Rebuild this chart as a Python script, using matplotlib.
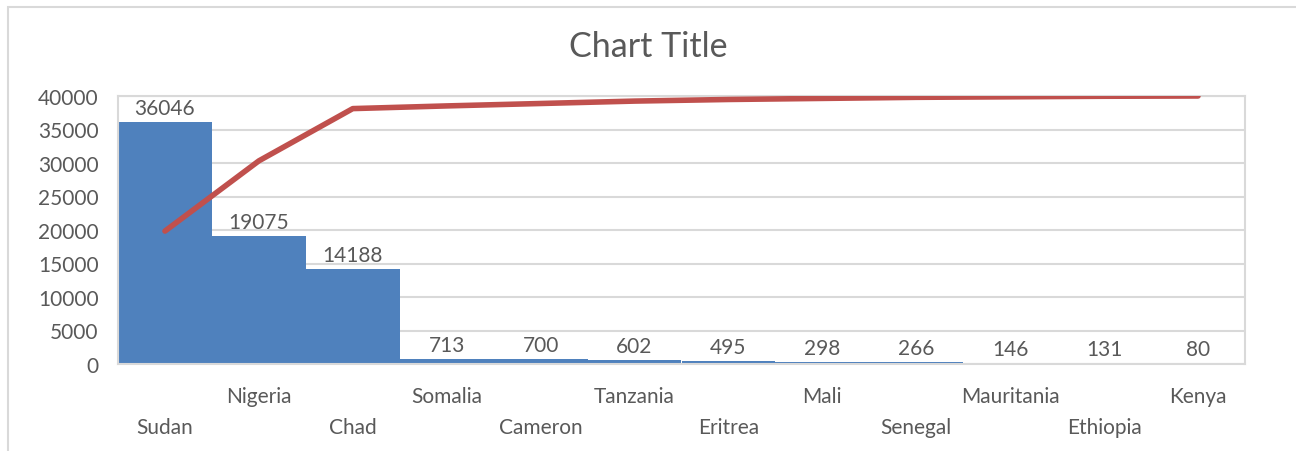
import matplotlib.pyplot as plt
from matplotlib.patches import Rectangle

countries = ["Sudan", "Nigeria", "Chad", "Somalia", "Cameron", "Tanzania",
             "Eritrea", "Mali", "Senegal", "Mauritania", "Ethiopia", "Kenya"]
counts = [36046, 19075, 14188, 713, 700, 602, 495, 298, 266, 146, 131, 80]
# cumulative share (%), secondary axis which is hidden in the chart
cum_pct = [49.6, 75.8, 95.3, 96.3, 97.2, 98.1, 98.7, 99.1, 99.5, 99.7, 99.9, 100.0]

text_col = "#595959"
grid_col = "#D9D9D9"
plt.rcParams["font.family"] = ["Lato", "DejaVu Sans"]

fig = plt.figure(figsize=(12.96, 4.52), dpi=100)
ax = fig.add_axes([118 / 1296, 1 - 365 / 452, (1245 - 118) / 1296, (365 - 97) / 452])

x = list(range(len(countries)))
ax.bar(x, counts, width=1.0, color="#4F81BD", zorder=2)
for xi, v in zip(x, counts):
    ax.annotate(str(v), (xi, v), xytext=(0, 3), textcoords="offset points",
                ha="center", va="bottom", fontsize=15, color=text_col)

ax.set_xlim(-0.5, len(countries) - 0.5)
ax.set_ylim(0, 40000)
ax.set_yticks(range(0, 40001, 5000))
ax.grid(axis="y", color=grid_col, linewidth=1.5, zorder=0)
ax.set_axisbelow(True)

# staggered category labels, like excel does when they don't fit
labels = [("\n" + c) if i % 2 == 0 else c for i, c in enumerate(countries)]
ax.set_xticks(x)
ax.set_xticklabels(labels, linespacing=1.65)
ax.tick_params(axis="x", length=0, pad=16, labelsize=15, labelcolor=text_col)
ax.tick_params(axis="y", length=0, pad=14, labelsize=15, labelcolor=text_col)
for s in ax.spines.values():
    s.set_color(grid_col)
    s.set_linewidth(1.5)

ax2 = ax.twinx()
ax2.plot(x, cum_pct, color="#C0504D", linewidth=4, solid_capstyle="round")
ax2.set_ylim(0, 100)
ax2.set_yticks([])
for s in ax2.spines.values():
    s.set_visible(False)

fig.text(0.5, 1 - 47 / 452, "Chart Title", ha="center", va="center",
         fontsize=24.5, color=text_col)

# outer chart frame
fig.patches.append(Rectangle((8 / 1296, -0.1), 2, 1 - 8 / 452 + 0.1,
                             transform=fig.transFigure, fill=False,
                             edgecolor=grid_col, linewidth=1.5))

fig.savefig("out.png", dpi=100)
